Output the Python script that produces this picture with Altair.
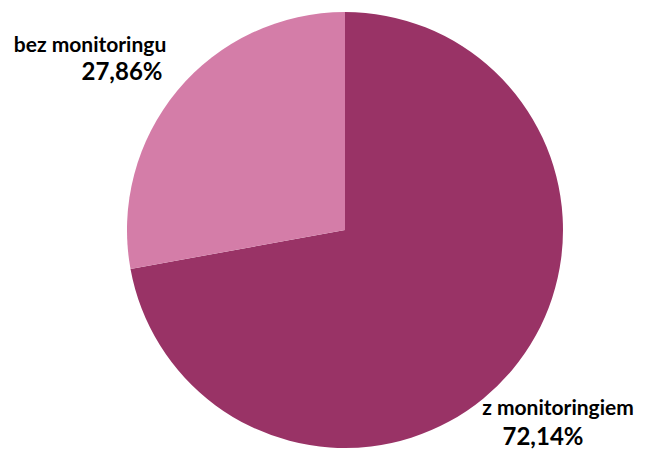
import altair as alt
import pandas as pd

categories = ["z monitoringiem", "bez monitoringu"]
values = [72.14, 27.86]
labels = ["72,14%", "27,86%"]
colors = ["#993366", "#D47DA8"]

df = pd.DataFrame({"cat": categories, "val": values, "lab": labels, "order": [0, 1]})

W, H = 630, 470
cx, cy, r = 337, 222, 218

pie = alt.Chart(df).mark_arc(radius=r).encode(
    theta=alt.Theta("val:Q", stack=True),
    order=alt.Order("order:Q"),
    color=alt.Color("cat:N", scale=alt.Scale(domain=categories, range=colors), legend=None),
    x=alt.value(cx),
    y=alt.value(cy),
)

font = "Lato"
name_pos = {"z monitoringiem": (550, 407), "bez monitoringu": (82, 44)}
pct_pos = {"z monitoringiem": (535, 437), "bez monitoringu": (114, 72)}

layers = [pie]
for c, l in zip(categories, labels):
    nx, ny = name_pos[c]
    px, py = pct_pos[c]
    sub = df[df["cat"] == c]
    layers.append(
        alt.Chart(sub).mark_text(font=font, fontWeight="bold", fontSize=21, align="center", baseline="alphabetic", color="black")
        .encode(text="cat:N", x=alt.value(nx), y=alt.value(ny))
    )
    layers.append(
        alt.Chart(sub).mark_text(font=font, fontWeight="bold", fontSize=24, align="center", baseline="alphabetic", color="black")
        .encode(text="lab:N", x=alt.value(px), y=alt.value(py))
    )

chart = alt.layer(*layers).properties(
    width=W, height=H, padding=0, autosize=alt.AutoSizeParams(type="none")
).configure_view(stroke=None)

chart.save("out.html", embed_options={"renderer": "svg", "actions": False})
